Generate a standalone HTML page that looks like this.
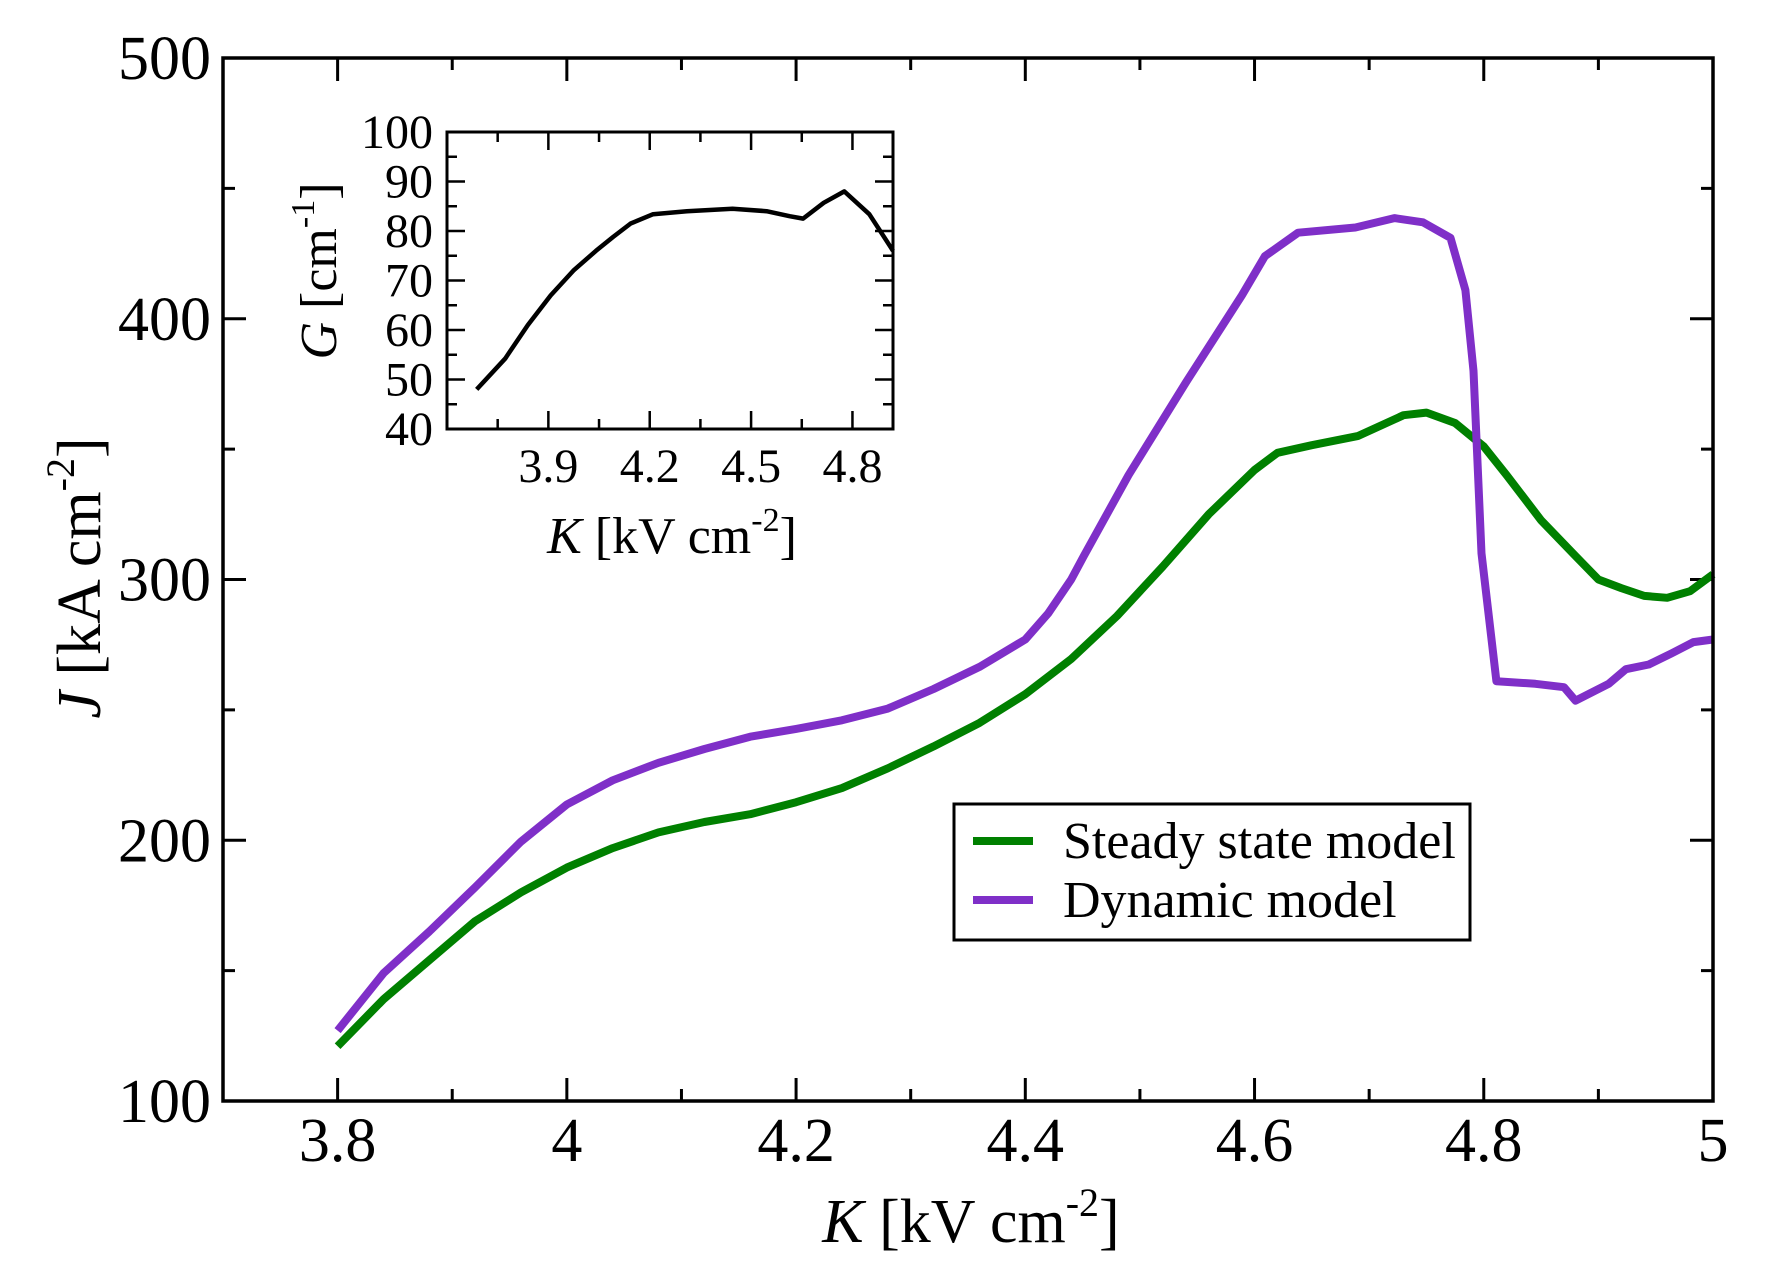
<!DOCTYPE html>
<html><head><meta charset="utf-8"><style>
html,body{margin:0;padding:0;background:#fff}
svg{display:block}
text{font-family:"Liberation Serif",serif;fill:#000}
</style></head><body>
<svg id="chart" width="1770" height="1282" viewBox="0 0 1770 1282" xmlns="http://www.w3.org/2000/svg">
<g id="main"></g>
<g id="inset"></g>
<g id="legend">
<rect x="954" y="804" width="516" height="136" fill="#fff" stroke="#000" stroke-width="3"/>
<line x1="973" y1="841" x2="1033" y2="841" stroke="#008000" stroke-width="8"/>
<text x="1063" y="858" font-size="52">Steady state model</text>
<line x1="973" y1="900" x2="1033" y2="900" stroke="#7f2fc8" stroke-width="8"/>
<text x="1063" y="917" font-size="52">Dynamic model</text>
</g>
<text x="971" y="1242" font-size="62" text-anchor="middle"><tspan font-style="italic">K</tspan> [kV cm<tspan font-size="40" dy="-26">-2</tspan><tspan dy="26">]</tspan></text>
<text transform="translate(100,578) rotate(-90)" font-size="62" text-anchor="middle"><tspan font-style="italic">J</tspan> [kA cm<tspan font-size="40" dy="-26">-2</tspan><tspan dy="26">]</tspan></text>
<text x="672" y="553" font-size="52" text-anchor="middle"><tspan font-style="italic">K</tspan> [kV cm<tspan font-size="34" dy="-22">-2</tspan><tspan dy="22">]</tspan></text>
<text transform="translate(336,271) rotate(-90)" font-size="52" text-anchor="middle"><tspan font-style="italic">G</tspan> [cm<tspan font-size="34" dy="-22">-1</tspan><tspan dy="22">]</tspan></text>
</svg>
<script>
// Main chart data
const steadyK = [3.8,3.84,3.88,3.92,3.96,4.0,4.04,4.08,4.12,4.16,4.2,4.24,4.28,4.32,4.36,4.4,4.44,4.48,4.52,4.56,4.6,4.62,4.65,4.69,4.73,4.75,4.775,4.8,4.82,4.85,4.88,4.9,4.92,4.94,4.96,4.98,5.0];
const steadyJ = [121,139,154,169,180,189.5,197,203,207,210,214.6,220,227.6,236,245,256,269.5,286,305,325,342,348.6,351.5,355,363,364,360,351,340,322.7,309,300,296.7,293.7,293,295.5,302];
const dynK = [3.8,3.84,3.88,3.92,3.96,4.0,4.04,4.08,4.12,4.16,4.2,4.24,4.28,4.32,4.36,4.4,4.42,4.44,4.451,4.49,4.54,4.589,4.609,4.638,4.688,4.722,4.747,4.771,4.784,4.791,4.798,4.811,4.845,4.87,4.88,4.909,4.924,4.944,4.964,4.983,5.0];
const dynJ = [127,149,165,182,199.5,213.7,223,229.7,235,239.7,242.7,246,250.5,258,266.5,277,287,300,309,340,375.5,409,424,433,435,438.6,437,431,411,380,310,261,260,258.7,253.5,260,265.6,267.4,271.7,276,277];
const xTicks = ["3.8","4","4.2","4.4","4.6","4.8","5"];
const yTicks = ["100","200","300","400","500"];
// Inset data
const gainK = [3.688,3.772,3.839,3.907,3.974,4.041,4.092,4.143,4.21,4.31,4.445,4.546,4.614,4.654,4.715,4.776,4.85,4.92];
const gainG = [48,54.2,61,67,72,76,78.8,81.5,83.4,84,84.5,84,83,82.5,85.7,88,83.4,76];
const insetXTicks = ["3.9","4.2","4.5","4.8"];
const insetYTicks = ["40","50","60","70","80","90","100"];

const NS="http://www.w3.org/2000/svg";
function mk(tag,attrs,parent){const e=document.createElementNS(NS,tag);for(const k in attrs)e.setAttribute(k,attrs[k]);parent.appendChild(e);return e;}

const L=223,R=1713,T=58,B=1101,x0=3.7,x1=5.0,y0=100,y1=500;
const X=k=>L+(k-x0)/(x1-x0)*(R-L);
const Y=j=>B-(j-y0)/(y1-y0)*(B-T);
const main=document.getElementById('main');
for(let v=3.7;v<=5.0001;v+=0.1){
  const maj=Math.abs(Math.round(v*10)%2)===0;const len=maj?23:12;const xx=X(v);
  const t1=mk('line',{x1:xx,y1:B,x2:xx,y2:B-len,stroke:'#000','stroke-width':3},main);
  
  
  mk('line',{x1:xx,y1:T,x2:xx,y2:T+len,stroke:'#000','stroke-width':3},main);
}
for(let v=100;v<=500;v+=50){
  const maj=v%100===0;const len=maj?23:12;const yy=Y(v);
  const t2=mk('line',{x1:L,y1:yy,x2:L+len,y2:yy,stroke:'#000','stroke-width':3},main);
  
  
  mk('line',{x1:R,y1:yy,x2:R-len,y2:yy,stroke:'#000','stroke-width':3},main);
}
xTicks.forEach(s=>{
  const t=mk('text',{x:X(parseFloat(s)),y:1161,'font-size':62,'text-anchor':'middle'},main);t.textContent=s;
  
  
});
yTicks.forEach(s=>{
  const t=mk('text',{x:211,y:Y(parseFloat(s))+21,'font-size':62,'text-anchor':'end'},main);t.textContent=s;
  
  
});
function pathOf(ks,vs,fx,fy){return ks.map((k,i)=>(i?'L':'M')+fx(k).toFixed(1)+','+fy(vs[i]).toFixed(1)).join('');}
const pS=mk('path',{d:pathOf(steadyK,steadyJ,X,Y),fill:'none',stroke:'#008000','stroke-width':8,'stroke-linejoin':'round'},main);


const pD=mk('path',{d:pathOf(dynK,dynJ,X,Y),fill:'none',stroke:'#7f2fc8','stroke-width':8,'stroke-linejoin':'round'},main);


const fr=mk('rect',{x:L,y:T,width:R-L,height:B-T,fill:'none',stroke:'#000','stroke-width':3.5},main);



const iL=447,iR=893,iT=132,iB=429,ix0=3.6,ix1=4.92,iy0=40,iy1=100;
const IX=k=>iL+(k-ix0)/(ix1-ix0)*(iR-iL);
const IY=g=>iB-(g-iy0)/(iy1-iy0)*(iB-iT);
const inset=document.getElementById('inset');
mk('rect',{x:iL,y:iT,width:iR-iL,height:iB-iT,fill:'#fff'},inset);
for(let v=3.75;v<=4.92;v+=0.15){
  const maj=Math.abs(Math.round((v-3.9)/0.15))%2===0;const len=maj?18:10;const xx=IX(v);
  mk('line',{x1:xx,y1:iB,x2:xx,y2:iB-len,stroke:'#000','stroke-width':2.5},inset);
  mk('line',{x1:xx,y1:iT,x2:xx,y2:iT+len,stroke:'#000','stroke-width':2.5},inset);
}
for(let v=40;v<=100;v+=5){
  const maj=v%10===0;const len=maj?18:10;const yy=IY(v);
  mk('line',{x1:iL,y1:yy,x2:iL+len,y2:yy,stroke:'#000','stroke-width':2.5},inset);
  mk('line',{x1:iR,y1:yy,x2:iR-len,y2:yy,stroke:'#000','stroke-width':2.5},inset);
}
insetXTicks.forEach(s=>{
  const t=mk('text',{x:IX(parseFloat(s)),y:482,'font-size':48,'text-anchor':'middle'},inset);t.textContent=s;
  
  
});
insetYTicks.forEach(s=>{
  const t=mk('text',{x:433,y:IY(parseFloat(s))+16,'font-size':48,'text-anchor':'end'},inset);t.textContent=s;
  
  
});
const pG=mk('path',{d:pathOf(gainK,gainG,IX,IY),fill:'none',stroke:'#000','stroke-width':4.5,'stroke-linejoin':'round'},inset);


mk('rect',{x:iL,y:iT,width:iR-iL,height:iB-iT,fill:'none',stroke:'#000','stroke-width':3},inset);
</script>
</body></html>
